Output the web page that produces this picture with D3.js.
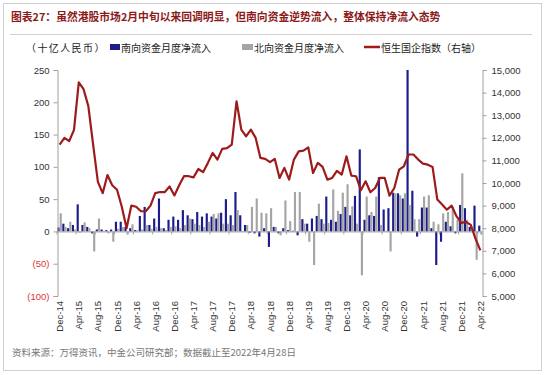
<!DOCTYPE html>
<html>
<head>
<meta charset="utf-8">
<script src="https://cdn.jsdelivr.net/npm/d3@7"></script>
<style>
  body { margin: 0; background: #fff; }
  text { font-family: "Liberation Sans", Arial, "Noto Sans CJK SC", sans-serif; }
  .cn { font-family: "Noto Sans CJK SC", sans-serif; }
</style>
</head>
<body>
<div id="chart"></div>
<script>
// monthly data, Dec-14 .. Apr-22 (89 months)
const southFlow = [6, 12, 5, 10, 42, 10, 7, -3, 3, 3, 2, 3, 15, 15, 7, 5, 2, 24, 38, 10,
  20, 51, 5, 18, 23, 18, 33, 25, 19, 30, 23, 28, 23, 20, 29, 50, 25, 61, 25, 10,
  -2, -3, -8, 5, -24, 7, -3, 5, 2, 1, -6, 19, 12, 20, 24, 19, 54, 18, 15, 27,
  38, 25, 55, 127, 18, 25, 24, 84, 34, 36, 60, 59, 51, 250, 63, -8, 37, 37, 5, -52,
  -16, 15, 8, -3, 41, 36, 7, 40, 9];

const northFlow = [28, 7, 15, 3, -2, 14, 5, -31, 20, 1, -3, -16, 4, 7, -5, 11, 2, 3, 10, 4,
  7, 5, 2, 7, 8, 5, 10, 20, 12, 10, 7, 15, 27, 28, 12, 12, 10, 33, -1, 10,
  38, 51, 29, 28, 36, 7, -6, 48, 16, 61, 61, 12, -16, -52, 43, 12, 13, 65, 32, 60,
  73, 39, 12, -68, 54, 30, 54, 10, 1, -31, 59, 56, 59, 41, 19, 19, 54, 56, 15, 11,
  28, 30, 38, 18, 90, 18, 2, -44, -5];

const hscei = [11700, 12000, 11850, 12350, 14450, 14150, 13400, 11700, 10050, 9550,
  10350, 9900, 9700, 8950, 8000, 9000, 8950, 8750, 8750, 9000,
  9550, 9600, 9600, 9850, 9450, 9900, 10300, 10300, 10250, 10620,
  10480, 10890, 11330, 11035, 11510, 11540, 11700, 13615, 12360, 12065,
  12360, 11995, 11110, 11065, 10920, 11065, 10225, 10670, 10150, 11035,
  11400, 11430, 11580, 10445, 10890, 10710, 10150, 10225, 10540, 10370,
  11180, 10330, 10300, 9680, 10075, 9590, 9780, 10225, 10225, 9440,
  9780, 10590, 10740, 11260, 11260, 11035, 10860, 10810, 10710, 9265,
  9045, 8820, 9000, 8530, 8235, 8280, 8145, 7525, 7020];

const months = d3.timeMonth.range(new Date(2014, 11, 1), new Date(2022, 4, 1));
const leftTicks = [-100, -50, 0, 50, 100, 150, 200, 250];
const rightTicks = d3.range(5000, 15001, 1000);

const title = "图表27：虽然港股市场2月中旬以来回调明显，但南向资金逆势流入，整体保持净流入态势";
const unitLabel = "（十亿人民币）";
const seriesNames = ["南向资金月度净流入", "北向资金月度净流入", "恒生国企指数（右轴）"];
const source = "资料来源：万得资讯，中金公司研究部；数据截止至2022年4月28日";

const W = 546, H = 375;
const blue = "#1c1c8a", grey = "#a5a5a5", red = "#9e1b1b";
const plotLeft = 57.5, plotRight = 482.5, plotTop = 70, plotBottom = 296;

const svg = d3.select("#chart").append("svg")
    .attr("width", W)
    .attr("height", H);

svg.append("rect")
    .attr("x", 3.5).attr("y", 3.5)
    .attr("width", W - 8).attr("height", H - 8)
    .attr("fill", "#fff")
    .attr("stroke", "#d0d0d0");

// title
svg.append("text")
    .attr("class", "cn")
    .attr("x", 11).attr("y", 21)
    .attr("font-size", 10.8).attr("font-weight", "bold")
    .attr("fill", "#8c1a1a")
    .text(title);

svg.append("line")
    .attr("x1", 10).attr("x2", 532)
    .attr("y1", 34.5).attr("y2", 34.5)
    .attr("stroke", "#cfcfcf");

// scales
const x = d3.scaleBand()
    .domain(d3.range(months.length))
    .range([plotLeft, plotRight])
    .paddingInner(0.1);

const xs = d3.scaleBand()
    .domain(["s", "n"])
    .range([0, x.bandwidth()]);

const yL = d3.scaleLinear().domain([-100, 250]).range([plotBottom, plotTop]);
const yR = d3.scaleLinear().domain([5000, 15000]).range([plotBottom, plotTop]);

// legend
const lg = svg.append("g").attr("class", "cn").attr("font-size", 10).attr("fill", "#222");
lg.append("text").attr("x", 26).attr("y", 51.5).attr("letter-spacing", 1.4).text(unitLabel);
lg.append("rect").attr("x", 110).attr("y", 44).attr("width", 10).attr("height", 6).attr("fill", blue);
lg.append("text").attr("x", 121).attr("y", 51.5).text(seriesNames[0]);
lg.append("rect").attr("x", 242).attr("y", 44).attr("width", 11).attr("height", 6).attr("fill", grey);
lg.append("text").attr("x", 254).attr("y", 51.5).text(seriesNames[1]);
lg.append("line").attr("x1", 364).attr("x2", 380).attr("y1", 47).attr("y2", 47)
    .attr("stroke", red).attr("stroke-width", 2.5);
lg.append("text").attr("x", 381).attr("y", 51.5).text(seriesNames[2]);

// bars
const g = svg.append("g");

g.selectAll("rect.s")
    .data(southFlow)
    .enter().append("rect")
    .attr("class", "s")
    .attr("x", (d, i) => x(i) + xs("s"))
    .attr("width", xs.bandwidth())
    .attr("y", d => yL(Math.max(0, d)))
    .attr("height", d => Math.abs(yL(d) - yL(0)))
    .attr("fill", blue);

g.selectAll("rect.n")
    .data(northFlow)
    .enter().append("rect")
    .attr("class", "n")
    .attr("x", (d, i) => x(i) + xs("n"))
    .attr("width", xs.bandwidth())
    .attr("y", d => yL(Math.max(0, d)))
    .attr("height", d => Math.abs(yL(d) - yL(0)))
    .attr("fill", grey);

// zero line / category axis
const tickIdx = d3.range(0, months.length, 4);
const fmtMonth = d3.timeFormat("%b-%y");

svg.append("line")
    .attr("x1", plotLeft).attr("x2", plotRight)
    .attr("y1", yL(0) + 0.5).attr("y2", yL(0) + 0.5)
    .attr("stroke", "#a0a0a0");

svg.selectAll("line.xt")
    .data(tickIdx)
    .enter().append("line")
    .attr("class", "xt")
    .attr("x1", i => x(i) - 0.5).attr("x2", i => x(i) - 0.5)
    .attr("y1", yL(0)).attr("y2", yL(0) + 3)
    .attr("stroke", "#a0a0a0");

svg.selectAll("text.xl")
    .data(tickIdx)
    .enter().append("text")
    .attr("class", "xl")
    .attr("font-size", 9.5)
    .attr("fill", "#333")
    .attr("text-anchor", "end")
    .attr("transform", i => "translate(" + (x(i) + x.step() / 2) + "," + (plotBottom + 5) + ") rotate(-90)")
    .attr("dy", "0.35em")
    .text(i => fmtMonth(months[i]));

// left axis
const axL = svg.append("g")
    .attr("transform", "translate(" + plotLeft + ",0)")
    .call(d3.axisLeft(yL).tickValues(leftTicks).tickSize(4).tickPadding(4)
        .tickFormat(d => d < 0 ? "(" + (-d) + ")" : d));
axL.select(".domain").attr("stroke", "#a0a0a0");
axL.selectAll(".tick line").attr("stroke", "#a0a0a0");
axL.selectAll(".tick text")
    .attr("font-size", 9.5)
    .attr("font-family", "Liberation Sans, Arial, sans-serif")
    .attr("fill", d => d < 0 ? "#d9373a" : "#333");

// right axis
const axR = svg.append("g")
    .attr("transform", "translate(" + plotRight + ",0)")
    .call(d3.axisRight(yR).tickValues(rightTicks).tickSize(4).tickPadding(5)
        .tickFormat(d3.format(",")));
axR.select(".domain").attr("stroke", "#a0a0a0");
axR.selectAll(".tick line").attr("stroke", "#a0a0a0");
axR.selectAll(".tick text")
    .attr("font-size", 9.5)
    .attr("font-family", "Liberation Sans, Arial, sans-serif")
    .attr("fill", "#333");

// HSCEI line
const line = d3.line()
    .x((d, i) => x(i) + x.bandwidth() / 2)
    .y(d => yR(d));

svg.append("path")
    .datum(hscei)
    .attr("fill", "none")
    .attr("stroke", red)
    .attr("stroke-width", 2.2)
    .attr("stroke-linejoin", "round")
    .attr("d", line);

// source
svg.append("text")
    .attr("class", "cn")
    .attr("x", 12).attr("y", 356)
    .attr("font-size", 9.5)
    .attr("fill", "#777")
    .text(source);
</script>
</body>
</html>
